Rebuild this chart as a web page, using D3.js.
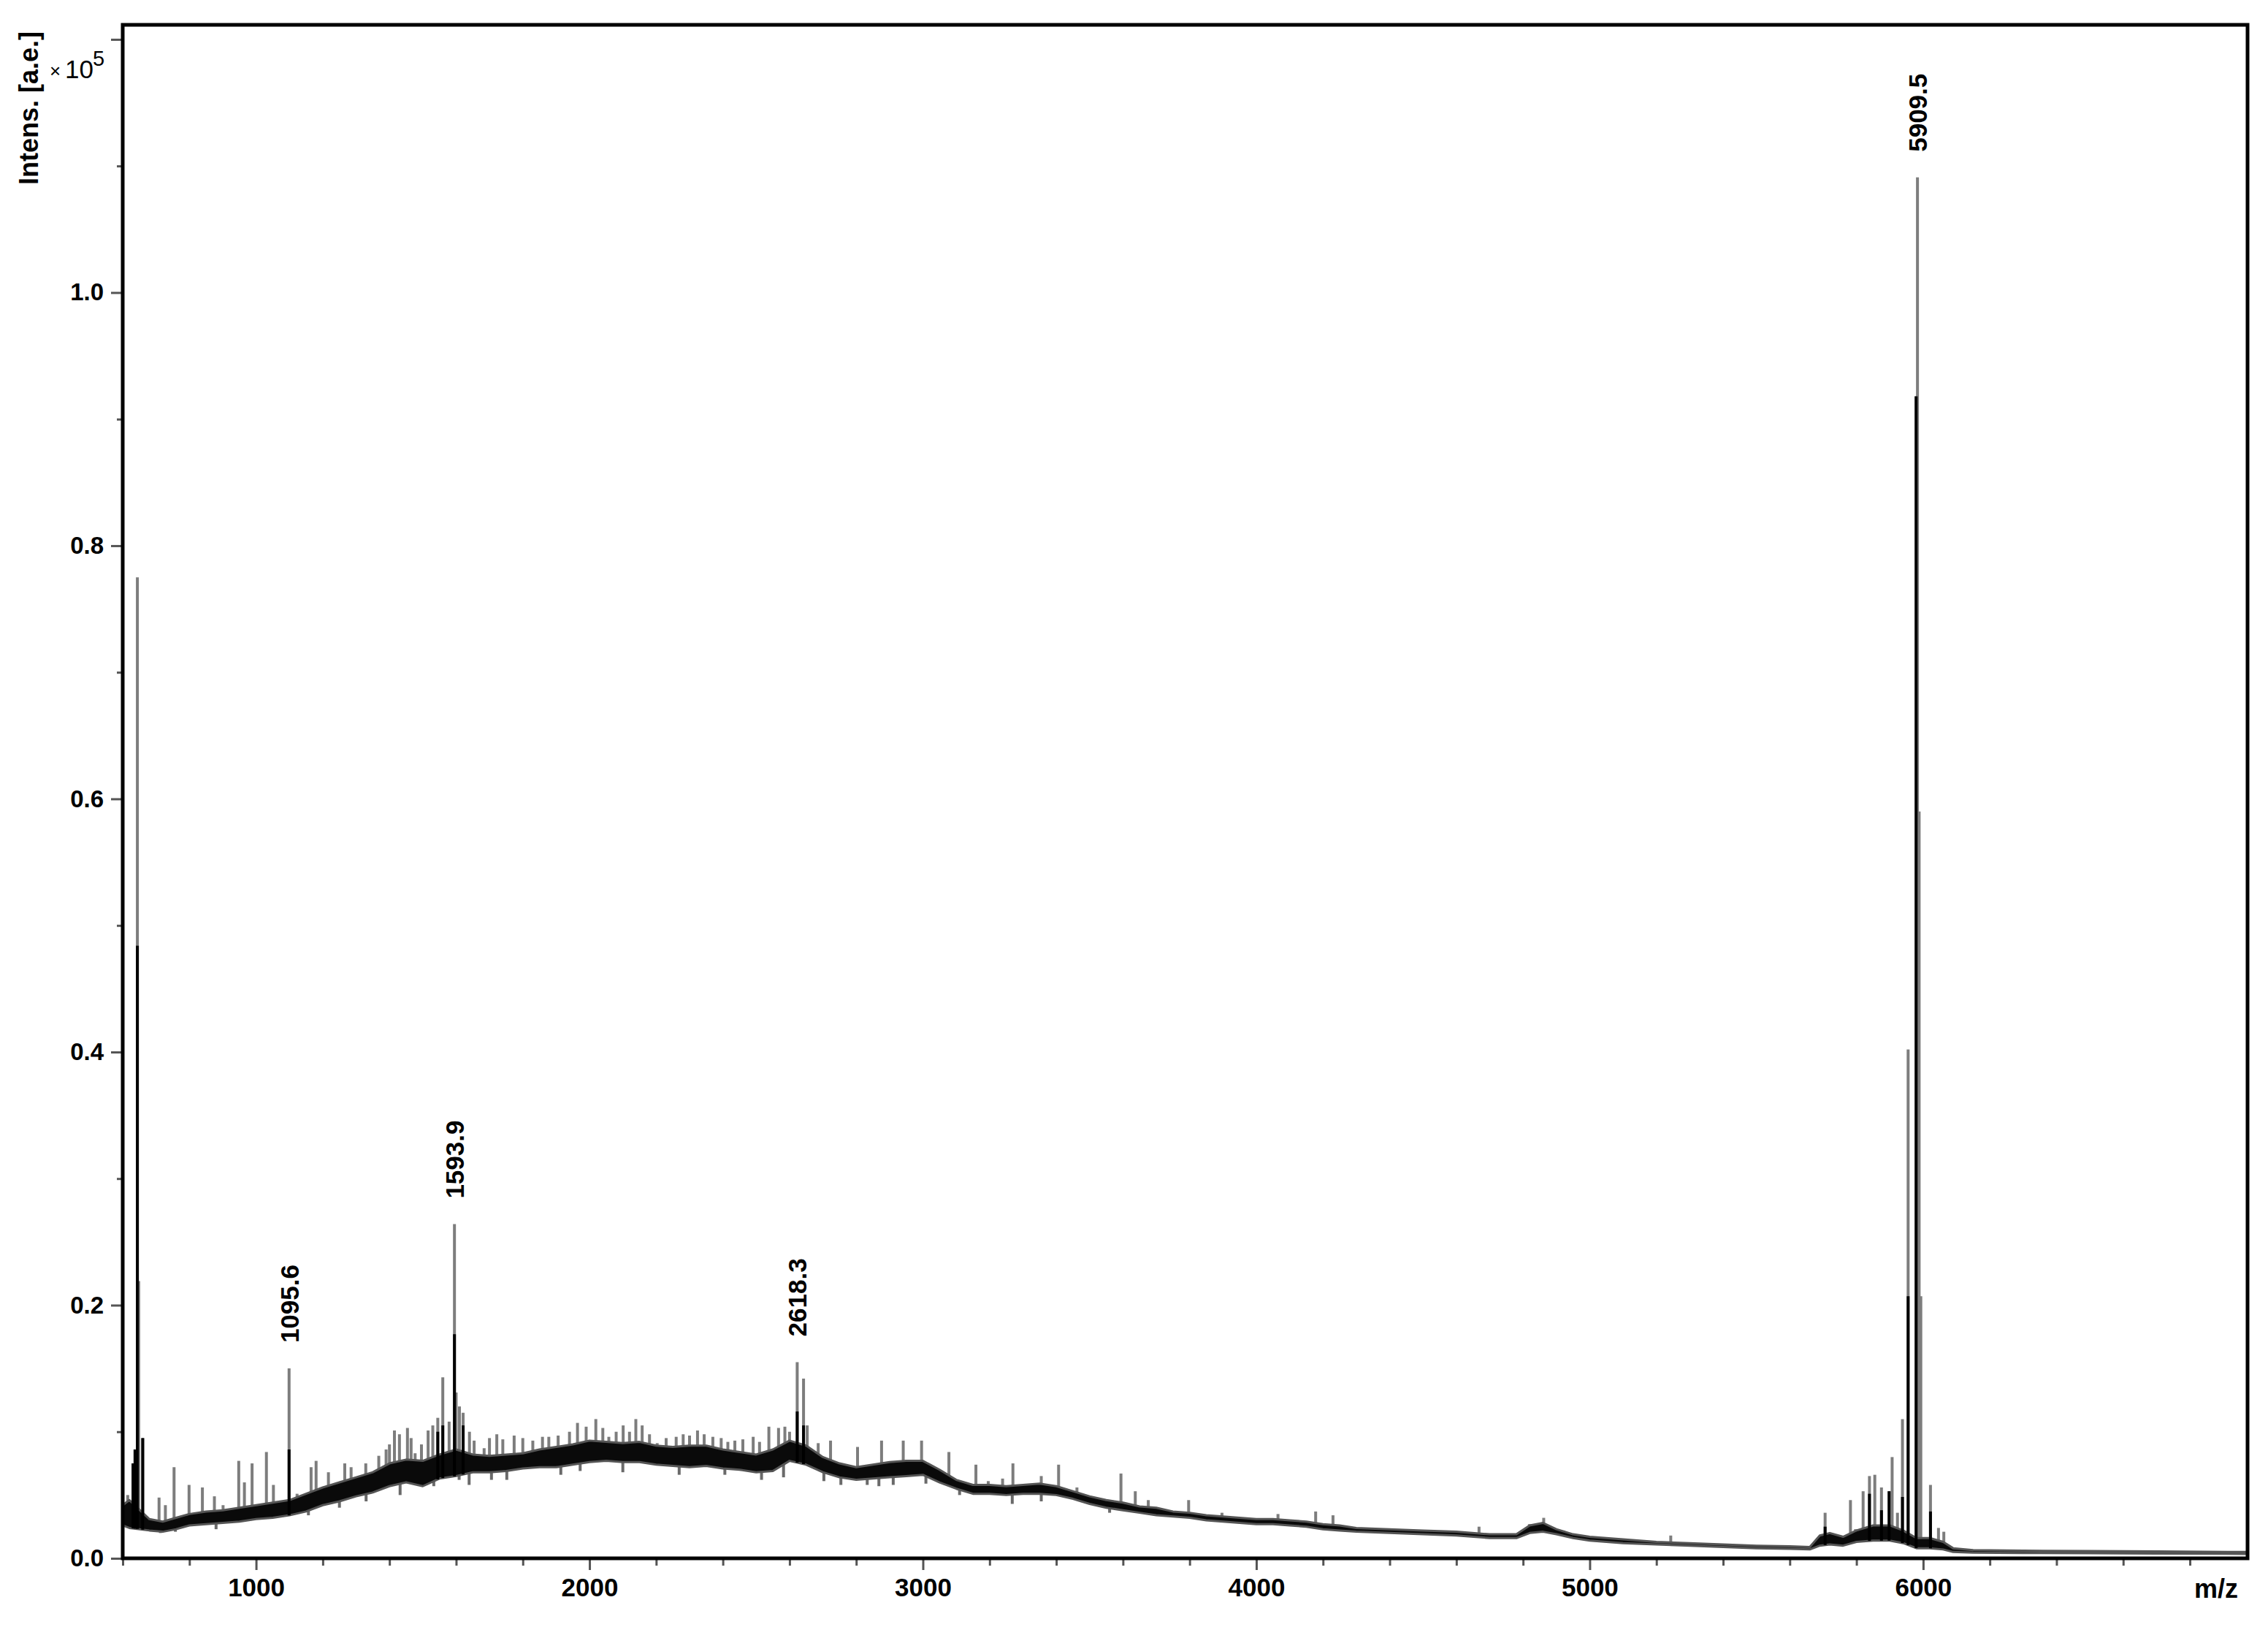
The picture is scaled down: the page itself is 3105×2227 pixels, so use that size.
<!DOCTYPE html>
<html><head><meta charset="utf-8">
<script src="https://cdn.jsdelivr.net/npm/d3@7"></script>
<style>html,body{margin:0;padding:0;background:#fff}</style>
</head><body>
<svg id="chart" width="3105" height="2227"></svg>
<script>
// ---------- DATA ----------
// x axis ticks (m/z)
const xMajorTicks = [1000, 2000, 3000, 4000, 5000, 6000];
const xMinorTicks = [600,800,1200,1400,1600,1800,2200,2400,2600,2800,3200,3400,3600,3800,4200,4400,4600,4800,5200,5400,5600,5800,6200,6400,6600,6800];
// y axis ticks (x10^5)
const yMajorTicks = [0.0, 0.2, 0.4, 0.6, 0.8, 1.0, 1.2];
const yTickLabels = ["0.0", "0.2", "0.4", "0.6", "0.8", "1.0", ""];
const yMinorTicks = [0.1, 0.3, 0.5, 0.7, 0.9, 1.1];

// noise band of the spectrum: m/z, lower and upper intensity (x10^5)
const bandMz = [600,620,680,720,760,800,850,900,950,1000,1050,1100,1150,1200,1250,1300,1350,1400,1450,1500,1550,1600,1650,1700,1750,1800,1850,1900,1950,2000,2050,2100,2150,2200,2250,2300,2350,2400,2450,2500,2550,2600,2650,2700,2750,2800,2850,2900,2950,3000,3050,3100,3150,3200,3250,3300,3350,3400,3450,3500,3550,3600,3650,3700,3750,3800,3850,3900,3950,4000,4050,4100,4150,4200,4250,4300,4400,4500,4600,4700,4780,4820,4860,4900,4950,5000,5100,5200,5300,5400,5500,5600,5660,5690,5720,5760,5800,5850,5900,5940,5980,6020,6060,6090,6150,6300,6500,6700,6970];
const bandLo = [0.026,0.024,0.022,0.021,0.023,0.026,0.027,0.028,0.029,0.031,0.032,0.034,0.037,0.042,0.045,0.049,0.052,0.057,0.060,0.057,0.063,0.065,0.068,0.068,0.069,0.071,0.072,0.072,0.074,0.076,0.077,0.076,0.076,0.074,0.073,0.072,0.073,0.071,0.070,0.068,0.069,0.077,0.074,0.068,0.064,0.062,0.063,0.064,0.065,0.066,0.060,0.055,0.051,0.051,0.050,0.051,0.051,0.050,0.047,0.043,0.040,0.038,0.036,0.034,0.033,0.032,0.030,0.029,0.028,0.027,0.027,0.026,0.025,0.023,0.022,0.021,0.020,0.019,0.018,0.016,0.016,0.020,0.021,0.019,0.016,0.014,0.012,0.011,0.010,0.009,0.008,0.0075,0.007,0.010,0.011,0.010,0.013,0.014,0.014,0.012,0.008,0.008,0.007,0.005,0.0045,0.0042,0.004,0.0038,0.0035];
const bandHi = [0.042,0.046,0.031,0.029,0.032,0.035,0.037,0.038,0.040,0.042,0.044,0.046,0.051,0.056,0.060,0.064,0.068,0.075,0.078,0.077,0.082,0.086,0.082,0.081,0.082,0.083,0.086,0.088,0.090,0.093,0.092,0.091,0.092,0.089,0.088,0.089,0.089,0.086,0.084,0.082,0.086,0.093,0.089,0.080,0.075,0.072,0.074,0.076,0.077,0.077,0.070,0.062,0.058,0.058,0.057,0.058,0.059,0.057,0.053,0.049,0.046,0.044,0.041,0.040,0.037,0.036,0.034,0.033,0.032,0.031,0.031,0.030,0.029,0.027,0.026,0.024,0.023,0.022,0.021,0.019,0.019,0.026,0.028,0.023,0.019,0.017,0.015,0.013,0.012,0.011,0.010,0.0095,0.009,0.018,0.020,0.017,0.022,0.026,0.026,0.022,0.016,0.016,0.013,0.008,0.0065,0.006,0.0058,0.0055,0.005];

// individual spikes: m/z, top intensity, dark core height (0 = none)
const spikeMz   = [615,631,637,644,648,660,709,728,754,799,839,875,901,948,965,988,1031,1052,1099,1123,1165,1180,1217,1266,1285,1329,1368,1390,1400,1415,1430,1454,1465,1477,1496,1516,1530,1545,1560,1579,1595,1600,1610,1621,1640,1654,1684,1700,1722,1740,1774,1800,1830,1859,1878,1906,1940,1964,1990,2019,2040,2058,2080,2101,2120,2139,2158,2180,2203,2230,2260,2281,2300,2324,2344,2370,2395,2415,2436,2460,2491,2510,2538,2567,2586,2600,2623,2642,2653,2686,2723,2804,2876,2941,2996,3078,3159,3196,3239,3270,3355,3407,3462,3594,3637,3676,3797,3897,4065,4178,4230,4668,4819,4862,4922,5243,5706,5782,5797,5820,5839,5855,5875,5898,5907,5923,5938,5955,5979,5983,5988,5993,6022,6046,6062];
const spikeTop  = [0.050,0.075,0.086,0.775,0.219,0.095,0.048,0.042,0.072,0.058,0.056,0.049,0.042,0.077,0.060,0.075,0.084,0.058,0.150,0.051,0.072,0.077,0.068,0.075,0.072,0.075,0.081,0.086,0.090,0.101,0.098,0.103,0.095,0.083,0.090,0.101,0.105,0.111,0.143,0.108,0.264,0.131,0.120,0.115,0.100,0.093,0.087,0.095,0.098,0.094,0.097,0.095,0.093,0.096,0.096,0.097,0.100,0.107,0.104,0.110,0.103,0.096,0.100,0.105,0.100,0.110,0.105,0.098,0.091,0.095,0.096,0.098,0.097,0.101,0.098,0.096,0.095,0.092,0.093,0.094,0.096,0.092,0.104,0.103,0.104,0.100,0.155,0.142,0.105,0.091,0.093,0.088,0.093,0.093,0.093,0.084,0.074,0.061,0.063,0.075,0.065,0.074,0.056,0.067,0.053,0.046,0.046,0.036,0.035,0.037,0.034,0.025,0.027,0.032,0.022,0.018,0.036,0.046,0.023,0.053,0.065,0.066,0.056,0.053,0.080,0.036,0.110,0.402,0.918,1.091,0.590,0.207,0.058,0.024,0.021];
const spikeCore = [0,0.075,0.086,0.484,0,0.095,0,0,0,0,0,0,0,0,0,0,0,0,0.086,0,0,0,0,0,0,0,0,0,0,0,0,0,0,0,0,0,0,0.100,0.105,0,0.177,0,0,0.105,0,0,0,0,0,0,0,0,0,0,0,0,0,0,0,0,0,0,0,0,0,0,0,0,0,0,0,0,0,0,0,0,0,0,0,0,0,0,0,0,0,0,0.116,0.105,0,0,0,0,0,0,0,0,0,0,0,0,0,0,0,0,0,0,0,0,0,0,0,0,0,0,0,0,0.025,0,0,0,0.051,0,0.038,0.053,0,0,0.0485,0.207,0.918,0,0,0,0.037,0,0];

// downward noise excursions: m/z, bottom intensity
const dipMz  = [713,758,880,991,1082,1157,1250,1330,1432,1533,1579,1609,1639,1706,1752,1914,1972,2100,2269,2406,2516,2582,2703,2754,2833,2868,2911,3009,3110,3268,3355,3560];
const dipLow = [0.020,0.021,0.023,0.030,0.033,0.034,0.040,0.045,0.050,0.057,0.066,0.062,0.058,0.062,0.062,0.066,0.069,0.068,0.066,0.066,0.062,0.064,0.061,0.058,0.058,0.057,0.058,0.059,0.050,0.043,0.045,0.036];

// annotated peaks
const peakLabels = ["1095.6", "1593.9", "2618.3", "5909.5"];
const peakLabelMz = [1099, 1595, 2623, 5983];
const peakLabelTop = [0.150, 0.264, 0.155, 1.091];

// ---------- DRAWING ----------
const FONT = "'Liberation Sans', Arial, Helvetica, sans-serif";
const L = 168, R = 3077, T = 34, B = 2133;
const svg = d3.select("#chart");
const x = d3.scaleLinear().domain([600, 6973]).range([L, R]);
const y = d3.scaleLinear().domain([0, 1.2115]).range([B, T]);
const loAt = d3.scaleLinear().domain(bandMz).range(bandLo);
const hiAt = d3.scaleLinear().domain(bandMz).range(bandHi);

svg.append("defs").append("clipPath").attr("id", "clip")
  .append("rect").attr("x", L).attr("y", T).attr("width", R - L).attr("height", B - T);

const plot = svg.append("g").attr("clip-path", "url(#clip)");

// grey spikes
plot.append("g").selectAll("line").data(spikeMz).join("line")
  .attr("x1", d => x(d)).attr("x2", d => x(d))
  .attr("y1", d => y(loAt(d)))
  .attr("y2", (d, i) => y(spikeTop[i]))
  .attr("stroke", "#7d7d7d").attr("stroke-width", 4);

// grey dips
plot.append("g").selectAll("line").data(dipMz).join("line")
  .attr("x1", d => x(d)).attr("x2", d => x(d))
  .attr("y1", d => y(hiAt(d)))
  .attr("y2", (d, i) => y(dipLow[i]))
  .attr("stroke", "#6a6a6a").attr("stroke-width", 4);

// noise band
const band = bandMz.map((m, i) => ({m, lo: bandLo[i], hi: bandHi[i]}));
plot.append("path").datum(band)
  .attr("d", d3.area().x(d => x(d.m)).y0(d => y(d.lo)).y1(d => y(d.hi)).curve(d3.curveLinear))
  .attr("fill", "#0a0a0a").attr("stroke", "#555").attr("stroke-width", 3).attr("stroke-linejoin", "round");

// dark cores of spikes
const cores = spikeMz.map((m, i) => ({m, c: spikeCore[i]})).filter(d => d.c > 0);
plot.append("g").selectAll("line").data(cores).join("line")
  .attr("x1", d => x(d.m)).attr("x2", d => x(d.m))
  .attr("y1", d => y(loAt(d.m)))
  .attr("y2", d => y(d.c))
  .attr("stroke", "#000").attr("stroke-width", 4);

// axes
const tickStyle = g => {
  g.select(".domain").remove();
  g.selectAll(".tick line").attr("stroke", "#555").attr("stroke-width", 3);
  g.selectAll(".tick text").attr("fill", "#000").attr("font-family", FONT).attr("font-weight", "bold");
};
svg.append("g").attr("transform", `translate(${L},0)`)
  .call(d3.axisLeft(y).tickValues(yMinorTicks).tickSize(8).tickFormat(""))
  .call(tickStyle);
svg.append("g").attr("transform", `translate(${L},0)`)
  .call(d3.axisLeft(y).tickValues(yMajorTicks).tickSize(16).tickPadding(10)
    .tickFormat((d, i) => yTickLabels[i]))
  .call(tickStyle)
  .call(g => g.selectAll(".tick text").attr("font-size", 33));
svg.append("g").attr("transform", `translate(0,${B})`)
  .call(d3.axisBottom(x).tickValues(xMinorTicks).tickSize(10).tickFormat(""))
  .call(tickStyle);
svg.append("g").attr("transform", `translate(0,${B})`)
  .call(d3.axisBottom(x).tickValues(xMajorTicks).tickSize(16).tickPadding(11).tickFormat(d3.format("d")))
  .call(tickStyle)
  .call(g => g.selectAll(".tick text").attr("font-size", 35));

// frame
svg.append("rect").attr("x", L).attr("y", T).attr("width", R - L).attr("height", B - T)
  .attr("fill", "none").attr("stroke", "#000").attr("stroke-width", 5);

// peak labels
svg.append("g").selectAll("text").data(peakLabels).join("text")
  .attr("transform", (d, i) => `translate(${x(peakLabelMz[i]) + 13},${y(peakLabelTop[i]) - 35}) rotate(-90)`)
  .attr("text-anchor", "start")
  .attr("font-family", FONT).attr("font-weight", "bold").attr("font-size", 35)
  .attr("fill", "#000").text(d => d);

// axis titles
svg.append("text").attr("transform", "translate(52,253) rotate(-90)")
  .attr("font-family", FONT).attr("font-weight", "bold").attr("font-size", 36)
  .attr("fill", "#000").text("Intens. [a.e.]");
const mult = svg.append("text").attr("font-family", FONT).attr("fill", "#000");
mult.append("tspan").attr("x", 68).attr("y", 106).attr("font-size", 26).text("×");
mult.append("tspan").attr("x", 89).attr("y", 107).attr("font-size", 35).text("10");
mult.append("tspan").attr("x", 127).attr("y", 90).attr("font-size", 29).text("5");

svg.append("text").attr("x", 3034).attr("y", 2187).attr("text-anchor", "middle")
  .attr("font-family", FONT).attr("font-weight", "bold").attr("font-size", 36)
  .attr("fill", "#000").text("m/z");
</script>
</body></html>
